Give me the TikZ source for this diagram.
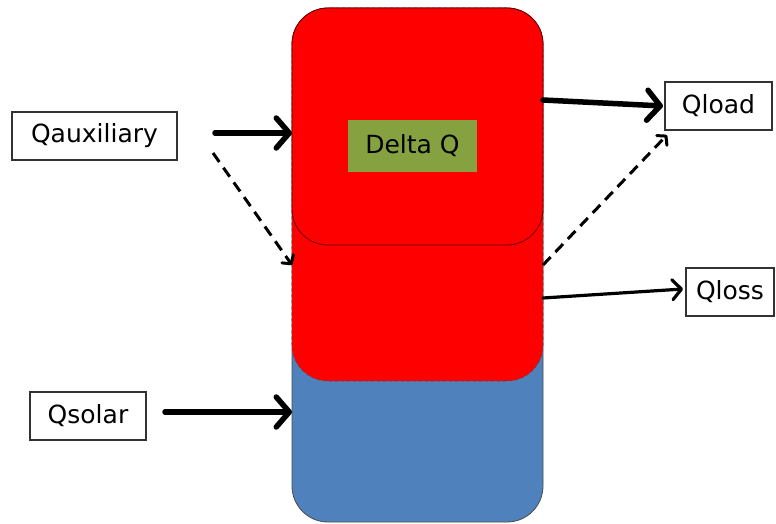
\documentclass[tikz,border=0pt]{standalone}
\usepackage{fontspec}
\setmainfont{DejaVu Sans}
\usetikzlibrary{arrows.meta}

\definecolor{tankblue}{RGB}{79,129,189}
\definecolor{hotred}{RGB}{255,0,0}
\definecolor{deltagreen}{RGB}{134,162,64}

\begin{document}
\begin{tikzpicture}[x=1pt, y=-1pt,
    every node/.style={font=\fontsize{25}{30}\selectfont, inner sep=0pt, outer sep=0pt},
    qbox/.style={
      draw=black!80, line width=1.8pt, fill=white,
      minimum height=48pt
    },
    layer/.style={
      minimum width=251pt, rounded corners=36pt
    },
    flow/.style={-{Straight Barb[length=13pt, width=30pt, round]}, line width=5.5pt, line cap=round},
    thinflow/.style={-{Straight Barb[length=9pt, width=20pt, round]}, line width=3.2pt, line cap=round},
    share/.style={-{Straight Barb[length=6pt, width=14pt, round]}, line width=3pt,
      dash pattern=on 11pt off 7pt}
  ]
    \useasboundingbox (0,0) rectangle (776,524);

    % storage tank, drawn in layers
    \node[layer, fill=tankblue, draw=black!70, line width=0.8pt, minimum height=514pt] (tank) at (417.5,265) {};
    \node[layer, fill=hotred, draw=black!70, line width=0.6pt, dashed, minimum height=373pt] (mid) at (417.5,194.5) {};
    \node[layer, fill=hotred, draw=red!40!black, line width=0.8pt, minimum height=237pt] (top) at (417.5,126.5) {};
    \node[fill=deltagreen, minimum width=129pt, minimum height=52pt] (delta) at (412.5,146) {Delta Q};

    % heat flows
    \node[qbox, minimum width=165pt] (qaux) at (94.5,136) {Qauxiliary};
    \node[qbox, minimum width=116pt] (qsolar) at (88,416) {Qsolar};
    \node[qbox, minimum width=107pt] (qload) at (718.5,106) {Qload};
    \node[qbox, minimum width=88pt] (qloss) at (730,292) {Qloss};

    \draw[flow] ([xshift=38pt, yshift=3pt]qaux.east) -- ([yshift=3pt]qaux.east -| tank.west);
    \draw[flow] ([xshift=19pt, yshift=4pt]qsolar.east) -- ([yshift=4pt]qsolar.east -| tank.west);
    \draw[flow] ([yshift=6pt]qload.west -| tank.east) -- ([xshift=-2pt]qload.west);
    \draw[thinflow] ([yshift=-6pt]qloss.west -| tank.east) -- ([xshift=-3pt, yshift=3pt]qloss.west);
    \draw[share] ([xshift=36pt, yshift=-17pt]qaux.east) -- (tank.west);
    \draw[share] (tank.east) -- ([xshift=2pt, yshift=-5pt]qload.south west);

\end{tikzpicture}
\end{document}
